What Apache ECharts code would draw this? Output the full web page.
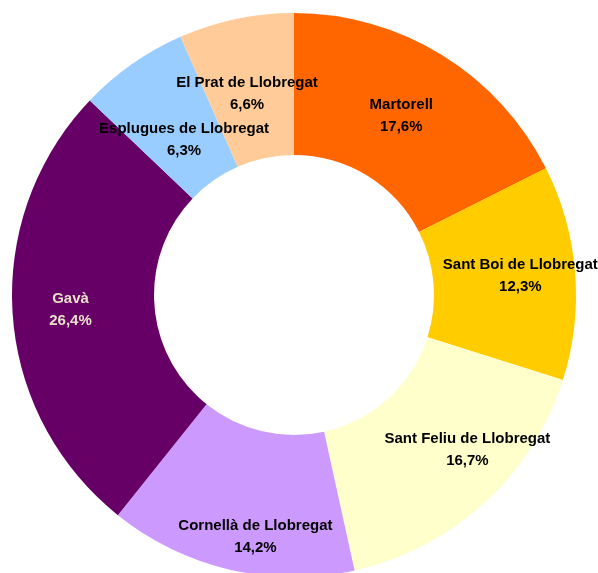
<!DOCTYPE html>
<html>
<head>
<meta charset="utf-8">
<script src="https://cdn.jsdelivr.net/npm/echarts@6/dist/echarts.min.js"></script>
<style>html,body{margin:0;padding:0;background:#fff;}#c{width:598px;height:573px;}</style>
</head>
<body>
<div id="c"></div>
<script>
const categories = ["Martorell", "Sant Boi de Llobregat", "Sant Feliu de Llobregat", "Cornellà de Llobregat", "Gavà", "Esplugues de Llobregat", "El Prat de Llobregat"];
const values = [17.6, 12.3, 16.7, 14.2, 26.4, 6.3, 6.6];
const colors = ["#FF6600", "#FFCC00", "#FFFFCC", "#CC99FF", "#660066", "#99CCFF", "#FFCC99"];
const labelColors = ["#000", "#000", "#000", "#000", "#E8E0C8", "#000", "#000"];
const labelOffsets = [[-5, 3], [13, -2], [29, -3], [10, 33], [-10, 0], [13, 20], [-3, 8]];

const chart = echarts.init(document.getElementById('c'));
chart.setOption({
  animation: false,
  series: [{
    type: 'pie',
    center: [294, 295],
    radius: [140, 282],
    startAngle: 90,
    clockwise: true,
    avoidLabelOverlap: false,
    labelLine: { show: false },
    itemStyle: { borderWidth: 0 },
    emphasis: { disabled: true },
    data: categories.map((n, i) => ({
      name: n,
      value: values[i],
      itemStyle: { color: colors[i] },
      label: {
        show: true,
        position: 'inside',
        offset: labelOffsets[i],
        color: labelColors[i],
        fontFamily: '"Liberation Sans", Arial, sans-serif',
        fontWeight: 'bold',
        fontSize: 15,
        lineHeight: 22,
        formatter: p => p.name + '\n' + values[p.dataIndex].toFixed(1).replace('.', ',') + '%'
      }
    }))
  }]
});
</script>
</body>
</html>
